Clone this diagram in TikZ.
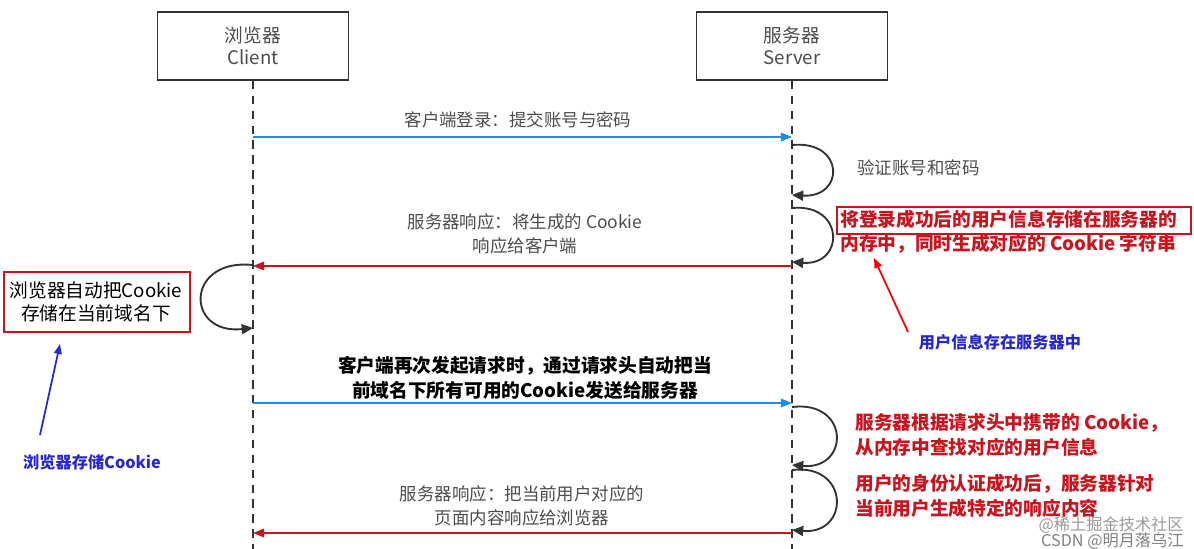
\documentclass[tikz,border=0pt]{standalone}
\usepackage{fontspec}
\setmainfont{Noto Sans CJK SC}
\usetikzlibrary{arrows.meta}
\definecolor{myblue}{RGB}{30,140,230}
\definecolor{myred}{RGB}{200,20,30}
\definecolor{lblue}{RGB}{40,40,200}
\tikzset{
 actor/.style={draw=black!80,line width=1pt,minimum width=5.4cm,minimum height=1.92cm,align=center,font=\fontsize{15}{18}\selectfont,text=black!70},
 life/.style={draw=black!80,line width=1pt,dash pattern=on 7pt off 5pt},
 msg/.style={line width=1pt,-{Triangle[length=9pt,width=7pt]}},
 lab/.style={font=\fontsize{14}{19}\selectfont,align=center,text=black!70},
 rlab/.style={font=\fontsize{15}{19.5}\selectfont\bfseries,align=left,text=myred,anchor=west},
 loop/.style={line width=1.5pt,black!80,-{Triangle[length=9pt,width=8pt]}},
 box/.style={draw=myred,line width=2pt},
 note/.style={-{Triangle[length=8pt,width=6pt]},line width=1.4pt}
}
\begin{document}
\begin{tikzpicture}[x=0.0282cm,y=-0.0282cm]
\useasboundingbox (0,0) rectangle (1194,549);
\node[actor] (cl) at (253,46) {浏览器\\Client};
\node[actor] (sv) at (792,46) {服务器\\Server};
\coordinate (clb) at (253,549); \coordinate (svb) at (792,549);
\draw[life] (cl.south) -- (clb);
\draw[life] (sv.south) -- (svb);
% msg 1
\coordinate (c1) at (253,137); \coordinate (s1) at (792,137);
\draw[msg,myblue] (c1) -- (s1);
\node[lab] (l1) at (518,120) {客户端登录：提交账号与密码};
% server loop 1
\coordinate (a1) at (792,145); \coordinate (b1) at (792,195);
\draw[loop] (a1) .. controls (845,140) and (845,198) .. (b1);
\node[lab,anchor=west] (l2) at (853,168) {验证账号和密码};
% server loop 2
\coordinate (a2) at (792,208); \coordinate (b2) at (792,262);
\draw[loop] (a2) .. controls (845,203) and (845,266) .. (b2);
\node[rlab] (l3) at (836,232) {将登录成功后的用户信息存储在服务器的\\内存中，同时生成对应的 Cookie 字符串};
\draw[box] (837,207) rectangle (1191,234);
% msg 2
\coordinate (s2) at (792,266); \coordinate (c2) at (253,266);
\draw[msg,myred] (s2) -- (c2);
\node[lab] (l4) at (525,234) {服务器响应：将生成的 Cookie\\响应给客户端};
% client loop
\coordinate (a3) at (253,265); \coordinate (b3) at (253,328);
\draw[loop] (a3) .. controls (185,258) and (185,335) .. (b3);
\node[lab,text=black,font=\fontsize{15}{19}\selectfont] (l5) at (96,302) {浏览器自动把Cookie\\存储在当前域名下};
\draw[box] (4,272) rectangle (190,332);
% notes
\node[font=\fontsize{13}{15}\selectfont\bfseries,text=lblue] (n1) at (1000,342) {用户信息存在服务器中};
\coordinate (n1t) at (874,258);
\draw[note,red] (908,332) -- (n1t);
\node[font=\fontsize{13}{15}\selectfont\bfseries,text=lblue] (n2) at (92,462) {浏览器存储Cookie};
\coordinate (n2t) at (60,344);
\draw[note,lblue] (40,435) -- (n2t);
% msg 3
\coordinate (c3) at (253,403); \coordinate (s3) at (792,403);
\draw[msg,myblue] (c3) -- (s3);
\node[lab,font=\fontsize{15}{20}\selectfont\bfseries,text=black] (l6) at (525,378) {客户端再次发起请求时，通过请求头自动把当\\前域名下所有可用的Cookie发送给服务器};
% server loop 3
\coordinate (a4) at (792,407); \coordinate (b4) at (792,465);
\draw[loop] (a4) .. controls (850,400) and (850,470) .. (b4);
\node[rlab] (l7) at (851,435) {服务器根据请求头中携带的 Cookie，\\从内存中查找对应的用户信息};
% server loop 4
\coordinate (a5) at (792,470); \coordinate (b5) at (792,530);
\draw[loop] (a5) .. controls (850,463) and (850,535) .. (b5);
\node[rlab] (l8) at (851,496) {用户的身份认证成功后，服务器针对\\当前用户生成特定的响应内容};
% watermark
\node[text=black!40,font=\fontsize{13}{15}\selectfont,anchor=east] (w1) at (1188,525) {@稀土掘金技术社区};
\node[text=black!50,font=\fontsize{13}{15}\selectfont,anchor=east] (w2) at (1188,541) {CSDN @明月落乌江};
% msg 4
\coordinate (s4) at (792,533); \coordinate (c4) at (253,533);
\draw[msg,myred] (s4) -- (c4);
\node[lab] (l9) at (522,506) {服务器响应：把当前用户对应的\\页面内容响应给浏览器};
\end{tikzpicture}
\end{document}
